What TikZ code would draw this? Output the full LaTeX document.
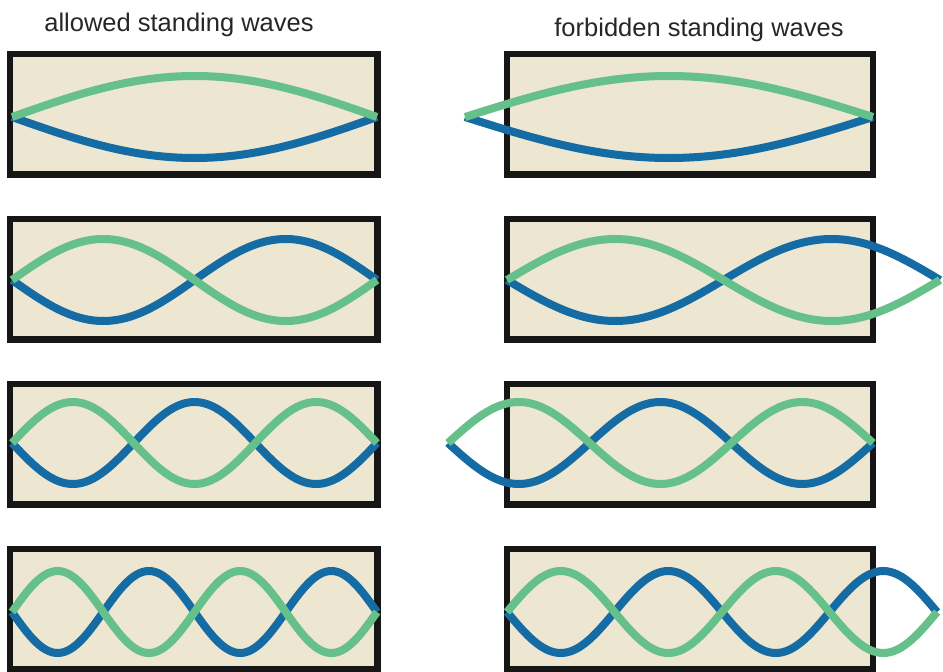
\documentclass[tikz,border=0pt]{standalone}
\usepackage{fontspec}
\setmainfont{Liberation Sans}
\definecolor{boxfill}{HTML}{EDE6D0}
\definecolor{boxline}{HTML}{161616}
\definecolor{wavegreen}{HTML}{66C08A}
\definecolor{waveblue}{HTML}{156BA3}
\tikzset{
  title/.style={anchor=base,text=black!85,font=\fontsize{25.5}{30}\selectfont},
  box/.style={draw=boxline,fill=boxfill,line width=6.5pt},
  bluewave/.style={draw=waveblue,line width=8pt},
  greenwave/.style={draw=wavegreen,line width=8pt}
}
\begin{document}
\begin{tikzpicture}[x=1pt,y=-1pt]
    \useasboundingbox (0,0) rectangle (943,672);
    \node[title] (allowed) at (179,31) {allowed standing waves};
    \node[title] (forbidden) at (699,36) {forbidden standing waves};
    \foreach \top in {54,219,384,549}{\draw[box] (10,\top) rectangle (377.5,\top+120.5); \draw[box] (507,\top) rectangle (873,\top+120.5);}
    % allowed: n half waves fit the box
    \foreach \n/\cy in {1/117,2/280,3/443,4/612}{
        \draw[bluewave] plot[domain=12:377,samples=121,variable=\t] (\t,{\cy+41*sin(180*\n/365*(\t-12))});
        \draw[greenwave] plot[domain=12:377,samples=121,variable=\t] (\t,{\cy-41*sin(180*\n/365*(\t-12))});
    }
    % forbidden: ends do not meet the walls
    \foreach \n/\cy/\xa/\xb in {1/117/465/873,2/280/507/940,3/443/448/873,4/612/507/937}{
        \draw[bluewave] plot[domain=\xa:\xb,samples=121,variable=\t] (\t,{\cy+41*sin(180*\n/(\xb-\xa)*(\t-\xa))});
        \draw[greenwave] plot[domain=\xa:\xb,samples=121,variable=\t] (\t,{\cy-41*sin(180*\n/(\xb-\xa)*(\t-\xa))});
    }
\end{tikzpicture}
\end{document}
